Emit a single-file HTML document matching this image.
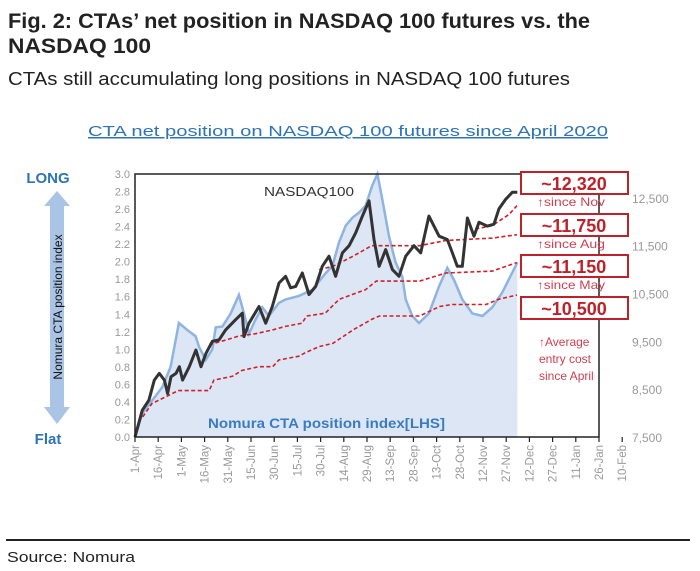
<!DOCTYPE html>
<html><head><meta charset="utf-8"><style>
html,body{margin:0;padding:0;background:#fff;}
svg{display:block;font-family:"Liberation Sans",sans-serif;}
</style></head><body>
<svg width="700" height="571" viewBox="0 0 700 571" id="fig">
<text x="8" y="28" font-size="21" font-weight="bold" fill="#222" textLength="582" lengthAdjust="spacingAndGlyphs">Fig. 2: CTAs’ net position in NASDAQ 100 futures vs. the</text>
<text x="8" y="53" font-size="21" font-weight="bold" fill="#222" textLength="143" lengthAdjust="spacingAndGlyphs">NASDAQ 100</text>
<text x="8" y="85" font-size="18" fill="#222" textLength="562" lengthAdjust="spacingAndGlyphs">CTAs still accumulating long positions in NASDAQ 100 futures</text>
<text x="88" y="136" font-size="15" fill="#2e74b5" text-decoration="underline" textLength="520" lengthAdjust="spacingAndGlyphs">CTA net position on NASDAQ 100 futures since April 2020</text>
<line x1="6" y1="540" x2="690" y2="540" stroke="#222" stroke-width="2"/>
<text x="7" y="562" font-size="15" fill="#222" textLength="128" lengthAdjust="spacingAndGlyphs">Source: Nomura</text>
<text x="48" y="183" font-size="15" font-weight="bold" fill="#2e74b5" text-anchor="middle">LONG</text>
<text x="48" y="444" font-size="15" font-weight="bold" fill="#2e74b5" text-anchor="middle">Flat</text>
<polygon points="57,191 70,206 64,206 64,407 70,407 57,424 44,407 50,407 50,206 44,206" fill="#a9c4e4"/>
<text transform="translate(62,307) rotate(-90)" font-size="12" fill="#111" text-anchor="middle">Nomura CTA position index</text>
<g id="plot"></g>
</svg>
<script>
const leftTicks=["0.0","0.2","0.4","0.6","0.8","1.0","1.2","1.4","1.6","1.8","2.0","2.2","2.4","2.6","2.8","3.0"];
const rightTicks=[7500,8500,9500,10500,11500,12500];
const xLabels=["1-Apr","16-Apr","1-May","16-May","31-May","15-Jun","30-Jun","15-Jul","30-Jul","14-Aug","29-Aug","13-Sep","28-Sep","13-Oct","28-Oct","12-Nov","27-Nov","12-Dec","27-Dec","11-Jan","26-Jan","10-Feb"];
const ctaDays=[0,4.7,11.2,17.7,23,28.4,33.8,39.2,41.4,45.7,50,52.2,56.5,61.9,67.2,70.5,73.7,78,82.3,86.6,93.1,97.4,106,114.7,123.3,127.6,131.9,136.2,140.5,144.8,149.1,153.4,156.7,159.9,164.2,168.5,172.8,175,179.3,183.6,190,196.6,201.9,206.3,211.6,218.1,224.6,231,237.5,242.9,247.2];
const ctaVals=[0,0.27,0.42,0.57,0.80,1.30,1.22,1.15,1.03,0.88,1.00,1.25,1.26,1.41,1.62,1.41,1.18,1.34,1.48,1.38,1.53,1.57,1.61,1.68,1.87,1.95,2.22,2.41,2.50,2.56,2.64,2.87,3.00,2.71,2.29,1.99,1.83,1.57,1.38,1.30,1.41,1.72,1.93,1.79,1.57,1.41,1.38,1.48,1.65,1.84,1.99];
const ndxDays=[0,4.7,9,12.5,15.7,19,21.1,23.3,26.5,28.7,30.8,35.1,39.4,42.7,45.9,50,54.3,58.6,65,69.4,70.5,73.7,80.2,84.5,88.8,93.1,97.4,100.6,103.9,108.2,112.5,116.8,121.1,125.4,129.7,134.1,138.4,142.7,147,151.3,154.5,157.8,162.1,166.4,170.7,175,180.4,184.7,190,196.6,201.9,205.2,208.4,211.6,214.9,219.2,222.4,227.8,232.1,235.3,239.7,244,247.2];
const ndxVals=[7500,8060,8270,8690,8830,8690,8410,8760,8830,8970,8690,8970,9320,8970,9250,9500,9530,9740,9950,10090,9600,9880,10230,9880,10230,10720,10860,10620,10650,10930,10480,10650,11070,11280,10860,11350,11500,11770,12120,12440,11630,11070,11420,11000,10860,11280,11500,11350,12120,11700,11630,11350,11070,11070,12080,11700,11990,11910,11950,12270,12470,12620,12620];
const costAprDays=[5,11,28,48,51,63,69,80,89,93,106,110,119,128,141,153,158,184,197,205,227,235,247];
const costAprVals=[7920,8200,8470,8470,8690,8770,8890,8970,8970,9110,9190,9260,9390,9460,9740,9960,10030,10030,10230,10270,10270,10380,10470];
const costMayDays=[48,59,67,78,89,97,108,111,123,132,149,156,184,201,231,247];
const costMayVals=[9430,9530,9610,9660,9740,9810,9880,10030,10090,10380,10580,10760,10760,10930,10970,11150];
const costAugDays=[119,128,141,153,184,201,231,247];
const costAugVals=[11000,11070,11280,11500,11500,11610,11660,11730];
const costNovDays=[220,231,242,247];
const costNovVals=[11850,11920,12160,12340];

const NS="http://www.w3.org/2000/svg";
const X0=135,X1=599,Y0=437,Y1=174;
const xS=d=>X0+d*(X1-X0)/300;
const yL=v=>Y0-v*(Y0-Y1)/3;
const yR=v=>Y0-(v-7500)*(Y0-Y1)/5500;
const g=document.getElementById('plot');
function el(tag,attrs,parent){const e=document.createElementNS(NS,tag);for(const k in attrs)e.setAttribute(k,attrs[k]);(parent||g).appendChild(e);return e;}
function pts(ds,vs,f){return ds.map((d,i)=>xS(d).toFixed(1)+','+f(vs[i]).toFixed(1)).join(' ');}

el('rect',{x:X0,y:Y1,width:X1-X0,height:Y0-Y1,fill:'#fff'});
const area=el('polygon',{points:xS(0)+','+Y0+' '+pts(ctaDays,ctaVals,yL)+' '+xS(ctaDays[ctaDays.length-1])+','+Y0,fill:'#dce6f5'});


const ctaLine=el('polyline',{points:pts(ctaDays,ctaVals,yL),fill:'none',stroke:'#8fb4e0','stroke-width':2.5});


const costs=[[costAprDays,costAprVals,'cost-line-since-april'],[costMayDays,costMayVals,'cost-line-since-may'],[costAugDays,costAugVals,'cost-line-since-aug'],[costNovDays,costNovVals,'cost-line-since-nov']];
costs.forEach(c=>{const l=el('polyline',{points:pts(c[0],c[1],yR),fill:'none',stroke:'#d0202a','stroke-width':1.6,'stroke-dasharray':'4,2.5'});

});
const ndx=el('polyline',{points:pts(ndxDays,ndxVals,yR),fill:'none',stroke:'#333','stroke-width':3,'stroke-linejoin':'round'});


const frame=el('rect',{x:X0,y:Y1,width:X1-X0,height:Y0-Y1,fill:'none',stroke:'#222','stroke-width':1.5});



leftTicks.forEach((t,i)=>{const e=el('text',{x:130,y:yL(+t)+4,'font-size':11,fill:'#999','text-anchor':'end'});e.textContent=t;

});
rightTicks.forEach(t=>{const e=el('text',{x:632,y:yR(t)+5,'font-size':12,fill:'#999'});e.textContent=t.toLocaleString('en-US');

});
xLabels.forEach((t,i)=>{const x=xS(i*15);el('line',{x1:x,y1:Y0,x2:x,y2:Y0+5,stroke:'#222','stroke-width':1.2});
const e=el('text',{transform:'translate('+(x+4)+','+(Y0+8)+') rotate(-90)','font-size':11.5,fill:'#999','text-anchor':'end'});e.textContent=t;

});

const nl=el('text',{x:264,y:196,'font-size':13,fill:'#333',textLength:90,lengthAdjust:'spacingAndGlyphs'});nl.textContent='NASDAQ100';


const cl=el('text',{x:208,y:428,'font-size':13.5,'font-weight':'bold',fill:'#3a7cc0',textLength:237,lengthAdjust:'spacingAndGlyphs'});cl.textContent='Nomura CTA position index[LHS]';



const boxes=[['~12,320',172,'↑since Nov'],['~11,750',214,'↑since Aug'],['~11,150',255,'↑since May'],['~10,500',297,null]];
boxes.forEach(b=>{el('rect',{x:521,y:b[1],width:107,height:22,fill:'#fff',stroke:'#c0202a','stroke-width':2});
const t=el('text',{x:574,y:b[1]+18,'font-size':18,'font-weight':'bold',fill:'#c0202a','text-anchor':'middle'});t.textContent=b[0];


if(b[2]){const s=el('text',{x:537,y:b[1]+34,'font-size':12,fill:'#d04050',textLength:68,lengthAdjust:'spacingAndGlyphs'});s.textContent=b[2];

}});
['↑Average','entry cost','since April'].forEach((t,i)=>{const s=el('text',{x:539,y:346+i*17,'font-size':12,fill:'#d04050'});s.textContent=t;

});
</script>
</body></html>
